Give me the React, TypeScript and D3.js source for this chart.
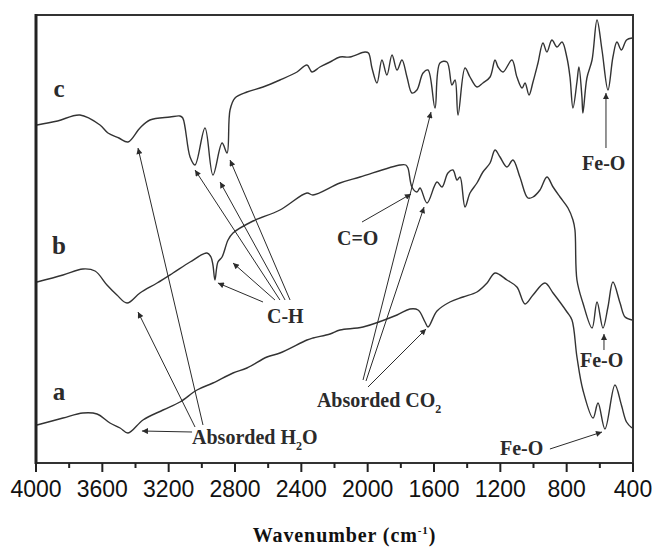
import React from 'react';
import * as d3 from 'd3';

// FTIR spectra, wavenumber (cm-1) vs transmittance (arbitrary, offset units)
const curveC = [
  [3994, 338], [3870, 342], [3735, 348], [3614, 338], [3566, 330], [3500, 325], [3445, 321], [3373, 335],
  [3313, 343], [3192, 346], [3132, 347], [3115, 345], [3071, 306], [3041, 298], [2981, 335], [2933, 288],
  [2878, 320], [2848, 310], [2830, 353], [2800, 365], [2728, 371], [2631, 376], [2529, 383], [2426, 391],
  [2366, 398], [2336, 391], [2288, 396], [2227, 401], [2167, 406], [2107, 406], [2016, 411], [1995, 410],
  [1974, 395], [1944, 380], [1914, 403], [1884, 388], [1853, 408], [1823, 393], [1793, 403], [1763, 386],
  [1733, 370], [1703, 373], [1666, 390], [1636, 393], [1594, 355], [1564, 400], [1522, 401], [1492, 378],
  [1473, 383], [1455, 348], [1413, 395], [1383, 386], [1341, 376], [1305, 380], [1262, 386], [1232, 403],
  [1214, 396], [1184, 391], [1130, 403], [1100, 386], [1069, 375], [1051, 380], [1027, 368], [1003, 381],
  [973, 400], [943, 420], [919, 411], [889, 423], [858, 416], [828, 421], [798, 405], [780, 386],
  [762, 355], [738, 381], [726, 396], [708, 366], [702, 350], [678, 385], [647, 403], [617, 443],
  [587, 413], [551, 373], [521, 406], [497, 421], [470, 413], [439, 423], [406, 425],
];

const curveB = [
  [3994, 181], [3837, 188], [3717, 194], [3644, 192], [3572, 178], [3512, 168], [3451, 160], [3373, 170],
  [3270, 180], [3174, 190], [3071, 201], [2969, 210], [2945, 206], [2933, 198], [2921, 183], [2903, 201],
  [2878, 206], [2842, 223], [2812, 230], [2691, 242], [2529, 253], [2366, 270], [2330, 268], [2167, 280],
  [2046, 286], [1805, 298], [1770, 298], [1757, 295], [1733, 276], [1703, 271], [1684, 275], [1642, 260],
  [1582, 281], [1552, 276], [1516, 290], [1486, 293], [1461, 283], [1443, 286], [1413, 256], [1383, 270],
  [1341, 280], [1305, 291], [1262, 300], [1232, 313], [1202, 306], [1160, 296], [1124, 303], [1082, 286],
  [1034, 265], [1003, 266], [961, 273], [919, 286], [882, 276], [840, 266], [792, 255], [762, 243],
  [750, 233], [738, 183], [702, 160], [647, 135], [617, 161], [581, 135], [551, 156], [521, 181],
  [478, 160], [448, 146], [406, 143],
];

const curveA = [
  [3994, 38], [3837, 45], [3717, 50], [3632, 49], [3554, 40], [3493, 35], [3445, 30], [3355, 43],
  [3234, 53], [3132, 61], [3029, 73], [2933, 80], [2812, 90], [2728, 95], [2607, 106], [2529, 110],
  [2366, 123], [2330, 125], [2227, 129], [2167, 133], [2028, 136], [1823, 148], [1745, 154], [1696, 153],
  [1654, 141], [1636, 136], [1582, 152], [1504, 161], [1425, 166], [1341, 171], [1280, 180], [1232, 190],
  [1160, 183], [1100, 176], [1051, 159], [1003, 168], [931, 180], [882, 170], [798, 151], [768, 143],
  [738, 106], [702, 73], [641, 45], [611, 60], [569, 34], [509, 78], [470, 58], [439, 41], [406, 35],
];

const curveLetters = [
  { text: 'c', w: 3861, v: 366 },
  { text: 'b', w: 3861, v: 209 },
  { text: 'a', w: 3861, v: 63 },
];

// label anchors (start x, baseline) in data units
const labels = [
  { text: 'Absorded H', sub: '2', tail: 'O', w: 3059, v: 19 },
  { text: 'C-H', w: 2607, v: 140 },
  { text: 'C=O', w: 2185, v: 218 },
  { text: 'Absorded CO', sub: '2', tail: '', w: 2306, v: 56 },
  { text: 'Fe-O', w: 707, v: 293 },
  { text: 'Fe-O', w: 720, v: 96 },
  { text: 'Fe-O', w: 1202, v: 8 },
];

// arrows: [fromW, fromV, toW, toV]
const arrows = [
  [3059, 31, 3361, 32],
  [3041, 36, 3385, 151],
  [2993, 38, 3385, 315],
  [2529, 163, 3041, 293],
  [2498, 163, 2890, 281],
  [2468, 163, 2830, 303],
  [2631, 161, 2903, 180],
  [2559, 163, 2812, 200],
  [2034, 241, 1739, 269],
  [2028, 83, 1618, 351],
  [2010, 82, 1660, 256],
  [1998, 76, 1648, 134],
  [563, 315, 563, 370],
  [575, 113, 575, 129],
  [901, 14, 587, 31],
];

const majorTicks = [4000, 3600, 3200, 2800, 2400, 2000, 1600, 1200, 800, 400];
const minorTicks = [3800, 3400, 3000, 2600, 2200, 1800, 1400, 1000, 600];

const W = 652;
const H = 547;
const left = 36, right = 633, top = 15, bottom = 463;

export default function App() {
  const x = d3.scaleLinear().domain([4000, 400]).range([left, right]);
  const y = d3.scaleLinear().domain([0, 448]).range([bottom, top]);
  const line = d3.line<number[]>()
    .x(d => x(d[0]))
    .y(d => y(d[1]))
    .curve(d3.curveCatmullRom.alpha(0.5));
  const ink = '#2b2b2b';
  const serif = '"Liberation Serif", "Times New Roman", serif';

  return (
    <svg width={W} height={H} style={{ position: 'absolute', left: 0, top: 0, background: '#fff' }}>
      <defs>
        <marker id="ah" viewBox="0 0 10 10" refX="10" refY="5" markerWidth="8" markerHeight="6"
          markerUnits="userSpaceOnUse" orient="auto">
          <path d="M0,0 L10,5 L0,10 z" fill={ink} />
        </marker>
      </defs>
      <rect x={0} y={0} width={W} height={H} fill="#fff" />

      {[curveC, curveB, curveA].map((c, i) => (
        <path key={i} d={line(c) || ''} fill="none" stroke="#333" strokeWidth={1.4} strokeLinejoin="round" />
      ))}

      {arrows.map((a, i) => (
        <line key={i} x1={x(a[0])} y1={y(a[1])} x2={x(a[2])} y2={y(a[3])}
          stroke={ink} strokeWidth={1} markerEnd="url(#ah)" />
      ))}

      {curveLetters.map((l, i) => (
        <text key={i} x={x(l.w)} y={y(l.v)} textAnchor="middle" fontFamily={serif}
          fontWeight="bold" fontSize={25} fill={ink}>{l.text}</text>
      ))}

      {labels.map((l, i) => (
        <text key={i} x={x(l.w)} y={y(l.v)} fontFamily={serif} fontWeight="bold" fontSize={20} fill={ink}>
          {l.text}
          {l.sub ? <tspan fontSize={12} dy={6}>{l.sub}</tspan> : null}
          {l.sub ? <tspan dy={-6}>{l.tail}</tspan> : null}
        </text>
      ))}

      {/* frame */}
      <rect x={left} y={top} width={right - left} height={bottom - top} fill="none" stroke="#333" strokeWidth={2} />
      <line x1={left} y1={top - 1} x2={left} y2={bottom + 1} stroke="#222" strokeWidth={3} />

      {majorTicks.map(t => (
        <g key={t}>
          <line x1={x(t)} x2={x(t)} y1={bottom} y2={bottom + 9} stroke="#222" strokeWidth={2} />
          <text x={x(t)} y={bottom + 34} textAnchor="middle" fontFamily='"Liberation Sans", Arial, sans-serif'
            fontSize={23} fill="#111">{t}</text>
        </g>
      ))}
      {minorTicks.map(t => (
        <line key={t} x1={x(t)} x2={x(t)} y1={bottom} y2={bottom + 5} stroke="#222" strokeWidth={2} />
      ))}

      <text x={(left + right) / 2 + 10} y={542} textAnchor="middle" fontFamily={serif} fontWeight="bold"
        fontSize={20} letterSpacing={0.9} fill="#111">
        Wavenumber (cm<tspan fontSize={11} dy={-8}>-1</tspan><tspan dy={8}>)</tspan>
      </text>
    </svg>
  );
}
